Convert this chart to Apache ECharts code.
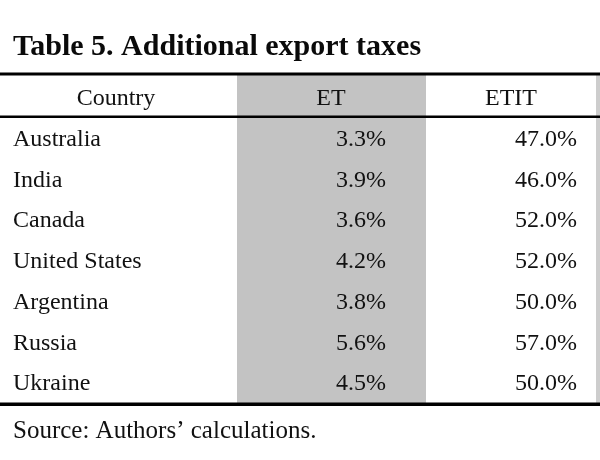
<!DOCTYPE html>
<html>
<head>
<meta charset="utf-8">
<script src="https://cdn.jsdelivr.net/npm/echarts@6/dist/echarts.min.js"></script>
<style>
html,body{margin:0;padding:0;background:#fff;}
#chart{width:600px;height:460px;}
</style>
</head>
<body>
<div id="chart"></div>
<script>
const titleText = 'Table 5. Additional export taxes';
const sourceText = 'Source: Authors\u2019 calculations.';
const columnHeaders = ['Country', 'ET', 'ETIT'];
const countries = ['Australia', 'India', 'Canada', 'United States', 'Argentina', 'Russia', 'Ukraine'];
const etValues = [3.3, 3.9, 3.6, 4.2, 3.8, 5.6, 4.5];
const etitValues = [47.0, 46.0, 52.0, 52.0, 50.0, 57.0, 50.0];

const FONT = "'Liberation Serif', 'Times New Roman', serif";
const TXT = '#111111';
const rowKeys = ['__header__'].concat(countries);

// Table rows built from the arrays
const tableRows = [[0, columnHeaders[0], columnHeaders[1], columnHeaders[2], 1]];
countries.forEach(function (c, i) {
  tableRows.push([i + 1, c, etValues[i].toFixed(1) + '%', etitValues[i].toFixed(1) + '%', 0]);
});

// layout (pixel positions on a 0..600 x scale)
const L = { countryX: 13, countryHdrX: 116, etEdge: [237, 426], etRight: 386, etHdrX: 331, etitRight: 577, etitHdrX: 511, tableRight: 596 };

const chart = echarts.init(document.getElementById('chart'), null, { renderer: 'canvas' });
chart.setOption({
  animation: false,
  backgroundColor: '#fff',
  title: {
    text: titleText,
    left: 8, top: 27,
    textStyle: { fontFamily: FONT, fontSize: 30, fontWeight: 'bold', color: '#0a0a0a' }
  },
  grid: { left: 0, right: 0, top: 76, bottom: 58 },
  xAxis: { type: 'value', min: 0, max: 600, show: false },
  yAxis: { type: 'category', data: rowKeys, inverse: true, show: false, boundaryGap: true },
  series: [
    {
      type: 'custom',
      silent: true,
      data: [[0]],
      z: 1,
      renderItem: function (params, api) {
        const top = params.coordSys.y - 1;
        const h = params.coordSys.height + 2;
        const x0 = api.coord([L.etEdge[0], 0])[0];
        const x1 = api.coord([L.etEdge[1], 0])[0];
        const xr = api.coord([L.tableRight, 0])[0];
        return {
          type: 'group',
          children: [
            { type: 'rect', shape: { x: x0, y: top, width: x1 - x0, height: h }, style: { fill: '#c3c3c3' } },
            { type: 'rect', shape: { x: xr, y: top, width: 4, height: h }, style: { fill: '#cdcdcd' } }
          ]
        };
      }
    },
    {
      type: 'custom',
      silent: true,
      data: tableRows,
      z: 3,
      renderItem: function (params, api) {
        const row = api.value(0);
        const isHdr = api.value(4) === 1;
        const y = api.coord([0, row])[1] + 2.5;
        const item = tableRows[params.dataIndex];
        const fs = 24;
        function t(text, xVal, align) {
          return {
            type: 'text',
            x: api.coord([xVal, row])[0], y: y,
            style: { text: text, fill: TXT, font: fs + 'px ' + FONT, textAlign: align, textVerticalAlign: 'middle' }
          };
        }
        if (isHdr) {
          return { type: 'group', children: [
            t(item[1], L.countryHdrX, 'center'),
            t(item[2], L.etHdrX, 'center'),
            t(item[3], L.etitHdrX, 'center')
          ]};
        }
        return { type: 'group', children: [
          t(item[1], L.countryX, 'left'),
          t(item[2], L.etRight, 'right'),
          t(item[3], L.etitRight, 'right')
        ]};
      }
    }
  ],
  graphic: [
    { type: 'rect', shape: { x: 0, y: 72.5, width: 600, height: 3 }, style: { fill: '#000' }, z: 10 },
    { type: 'rect', shape: { x: 0, y: 115.5, width: 600, height: 2.5 }, style: { fill: '#000' }, z: 10 },
    { type: 'rect', shape: { x: 0, y: 402.5, width: 600, height: 3.5 }, style: { fill: '#000' }, z: 10 },
    { type: 'text', x: 13, y: 431, style: { text: sourceText, font: '25px ' + FONT, fill: TXT, textVerticalAlign: 'middle' }, z: 10 }
  ]
});
</script>
</body>
</html>
